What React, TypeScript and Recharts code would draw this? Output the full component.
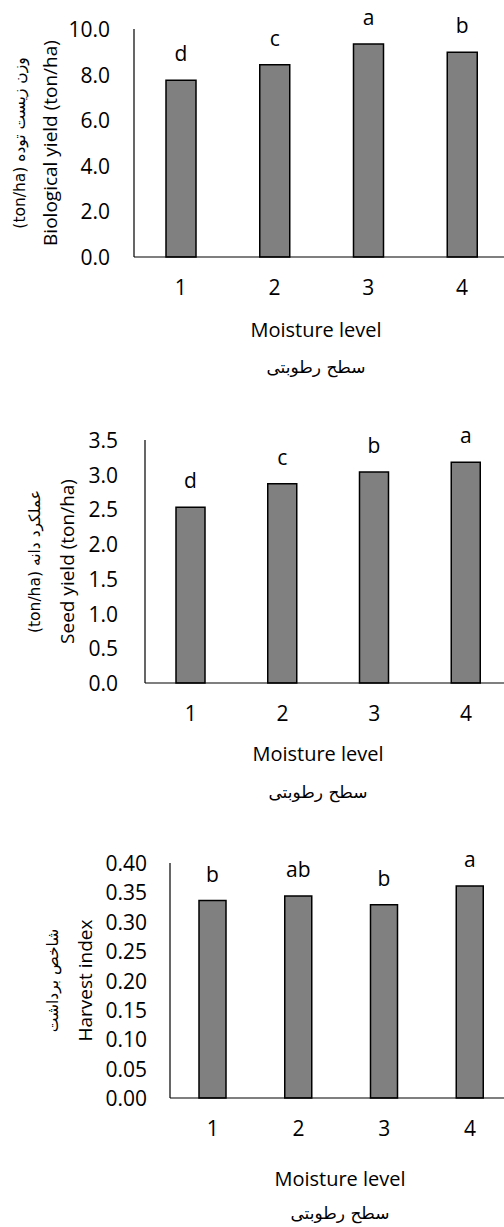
import React from 'react';
import { BarChart, Bar, XAxis, YAxis, LabelList } from 'recharts';

const moistureLevels = ['1', '2', '3', '4'];

const biologicalYield = [7.75, 8.43, 9.34, 8.98];
const biologicalLetters = ['d', 'c', 'a', 'b'];
const biologicalTicks = [0, 2, 4, 6, 8, 10];

const seedYield = [2.53, 2.87, 3.04, 3.18];
const seedLetters = ['d', 'c', 'b', 'a'];
const seedTicks = [0, 0.5, 1, 1.5, 2, 2.5, 3, 3.5];

const harvestIndex = [0.336, 0.344, 0.329, 0.361];
const harvestLetters = ['b', 'ab', 'b', 'a'];
const harvestTicks = [0, 0.05, 0.1, 0.15, 0.2, 0.25, 0.3, 0.35, 0.4];

const LATIN = '"Open Sans", "DejaVu Sans", sans-serif';
const PERSIAN = '"DejaVu Sans", sans-serif';
const CHART_W = 530;

interface PanelProps {
  top: number;
  height: number;
  plotTop: number;
  plotBottom: number;
  plotLeft: number;
  plotRight: number;
  values: number[];
  letters: string[];
  ticks: number[];
  digits: number;
  barSize: number;
  yTickGap: number;
  yTitle: string;
  yTitleFa: string;
  yTitleX: number;
  yTitleFaX: number;
  xTitleX: number;
  xTitleGap: number;
  xTitleFaGap: number;
}

const Panel: React.FC<PanelProps> = (p) => {
  const data = moistureLevels.map((cat, i) => ({ cat, value: p.values[i], letter: p.letters[i] }));
  const midY = (p.plotTop + p.plotBottom) / 2;

  const yTick = (props: any) => (
    <text
      x={p.plotLeft - p.yTickGap} y={props.y}
      textAnchor="end" dominantBaseline="central" fontSize={21} fontFamily={LATIN} fill="#000"
    >
      {Number(props.payload.value).toFixed(p.digits)}
    </text>
  );

  const yTitle = () => (
    <g>
      <text
        x={p.yTitleX} y={midY} transform={`rotate(-90, ${p.yTitleX}, ${midY})`}
        textAnchor="middle" dominantBaseline="central" fontSize={19} fontFamily={LATIN} fill="#000"
      >
        {p.yTitle}
      </text>
      <text
        x={p.yTitleFaX} y={midY} transform={`rotate(-90, ${p.yTitleFaX}, ${midY})`}
        textAnchor="middle" dominantBaseline="central" fontSize={15.5} fontFamily={PERSIAN} fill="#000"
      >
        {p.yTitleFa}
      </text>
    </g>
  );

  const xTitle = () => (
    <g>
      <text x={p.xTitleX} y={p.plotBottom + p.xTitleGap} textAnchor="middle" dominantBaseline="central"
        fontSize={20} fontFamily={LATIN} fill="#000">
        Moisture level
      </text>
      <text x={p.xTitleX} y={p.plotBottom + p.xTitleFaGap} textAnchor="middle" dominantBaseline="central"
        fontSize={17} fontFamily={PERSIAN} fill="#000">
        سطح رطوبتی
      </text>
    </g>
  );

  return (
    <div style={{ position: 'absolute', left: 0, top: p.top }}>
      <BarChart
        width={CHART_W}
        height={p.height}
        data={data}
        margin={{ top: p.plotTop, right: CHART_W - p.plotRight, left: 0, bottom: 0 }}
      >
        <XAxis
          dataKey="cat"
          height={p.height - p.plotBottom}
          axisLine={{ stroke: '#000', strokeWidth: 1.2 }}
          tickLine={false}
          tickSize={0}
          tickMargin={23}
          interval={0}
          tick={{ fill: '#000', fontSize: 21, fontFamily: LATIN }}
          label={xTitle}
        />
        <YAxis
          width={p.plotLeft}
          domain={[0, p.ticks[p.ticks.length - 1]]}
          ticks={p.ticks}
          interval={0}
          axisLine={{ stroke: '#000', strokeWidth: 1.2 }}
          tickLine={false}
          tick={yTick}
          label={yTitle}
        />
        <Bar dataKey="value" fill="#808080" stroke="#000" strokeWidth={1.5} barSize={p.barSize} isAnimationActive={false}>
          <LabelList dataKey="letter" position="top" offset={19} fill="#000" fontSize={21} fontFamily={LATIN} />
        </Bar>
      </BarChart>
    </div>
  );
};

export default function App() {
  return (
    <div style={{ position: 'absolute', left: 0, top: 0, width: 504, height: 1227, overflow: 'hidden', background: '#fff' }}>
      <Panel
        top={0} height={400}
        plotTop={29} plotBottom={257} plotLeft={134} plotRight={509}
        values={biologicalYield} letters={biologicalLetters} ticks={biologicalTicks} digits={1} barSize={30}
        yTickGap={24}
        yTitle="Biological yield (ton/ha)" yTitleFa="(ton/ha) وزن زیست توده" yTitleX={50} yTitleFaX={20}
        xTitleX={316} xTitleGap={72} xTitleFaGap={110}
      />
      <Panel
        top={400} height={415}
        plotTop={40} plotBottom={283} plotLeft={145} plotRight={512}
        values={seedYield} letters={seedLetters} ticks={seedTicks} digits={1} barSize={29}
        yTickGap={27}
        yTitle="Seed yield (ton/ha)" yTitleFa="(ton/ha) عملکرد دانه" yTitleX={67} yTitleFaX={35}
        xTitleX={318} xTitleGap={70} xTitleFaGap={109}
      />
      <Panel
        top={815} height={412}
        plotTop={48} plotBottom={283} plotLeft={170} plotRight={513}
        values={harvestIndex} letters={harvestLetters} ticks={harvestTicks} digits={2} barSize={27}
        yTickGap={23}
        yTitle="Harvest index" yTitleFa="شاخص برداشت" yTitleX={85} yTitleFaX={53}
        xTitleX={340} xTitleGap={80} xTitleFaGap={115}
      />
    </div>
  );
}
